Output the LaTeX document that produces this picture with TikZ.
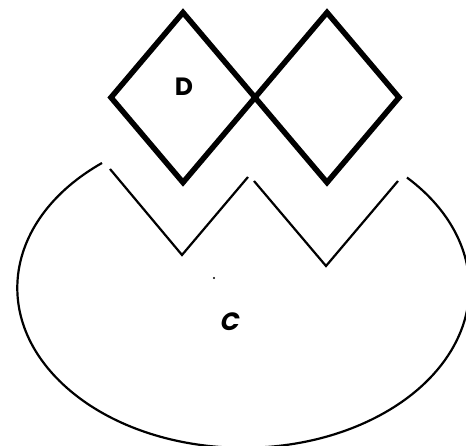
\documentclass[tikz,border=0pt]{standalone}
\usepackage{fontspec}
\newfontfamily\handfont{Poppins}
\newfontfamily\handslant{Poppins}[FakeSlant=0.2]
\usepackage{tikz}
\usetikzlibrary{positioning,shapes.geometric}

\begin{document}
\begin{tikzpicture}[x=1pt, y=1pt,
  lozenge/.style={draw, diamond, line width=5.5pt, minimum width=144pt,
    minimum height=170pt, inner sep=0pt, outer sep=0pt},
  outline/.style={line width=2.2pt, line join=miter},
  tag/.style={font=\handfont\bfseries\fontsize{25}{25}\selectfont}
]
\useasboundingbox (0,0) rectangle (466,446);

% Two diamonds touching at one corner
\node[lozenge] (DL) at (183,348.5) {};
\node[lozenge] (DR) at (327,348.5) {};
\node[tag] (D) at (184,359) {D};

% Cup below with a zigzag rim
\coordinate (W1) at (110,277);
\coordinate (W2) at (182,191);
\coordinate (W3) at (248,269);
\coordinate (W4) at (254,265);
\coordinate (W5) at (326,180);
\coordinate (W6) at (398,265);
\draw[outline] (W1) -- (W2) -- (W3);
\draw[outline] (W4) -- (W5) -- (W6);
\draw[outline] (102,283) arc[start angle=128.7, end angle=403.6,
  x radius=226, y radius=160];
\node[tag, font=\handslant\bfseries\fontsize{25}{25}\selectfont] (C) at (229,124) {C};
\fill (214,168) circle (1.1);
\end{tikzpicture}
\end{document}
